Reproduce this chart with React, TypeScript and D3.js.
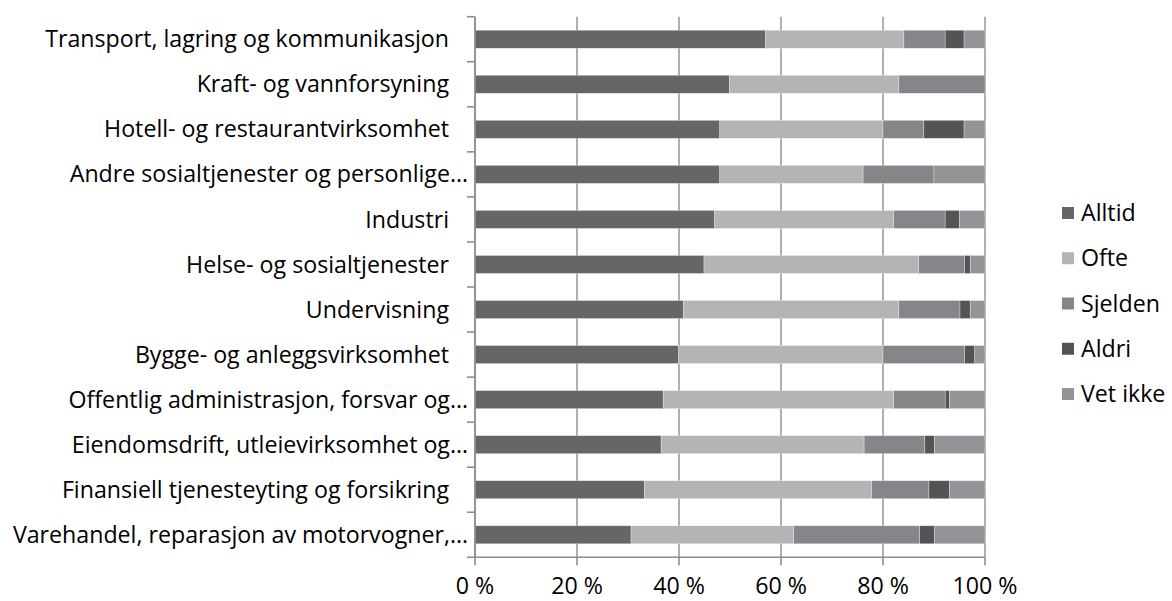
import React from "react";
import * as d3 from "d3";

const categories = [
  "Transport, lagring og kommunikasjon",
  "Kraft- og vannforsyning",
  "Hotell- og restaurantvirksomhet",
  "Andre sosialtjenester og personlige…",
  "Industri",
  "Helse- og sosialtjenester",
  "Undervisning",
  "Bygge- og anleggsvirksomhet",
  "Offentlig administrasjon, forsvar og…",
  "Eiendomsdrift, utleievirksomhet og…",
  "Finansiell tjenesteyting og forsikring",
  "Varehandel, reparasjon av motorvogner,…",
];

const seriesNames = ["Alltid", "Ofte", "Sjelden", "Aldri", "Vet ikke"];

const alltid = [57.0, 49.9, 48.0, 48.0, 47.0, 44.9, 40.9, 39.9, 36.9, 36.5, 33.2, 30.6];
const ofte = [27.1, 33.2, 32.0, 28.1, 35.1, 42.1, 42.2, 40.1, 45.2, 39.8, 44.6, 31.9];
const sjelden = [8.1, 16.9, 8.0, 13.9, 10.1, 9.0, 12.0, 16.0, 10.1, 11.9, 11.2, 24.7];
const aldri = [3.7, 0, 7.9, 0, 2.8, 1.1, 2.0, 2.0, 0.8, 1.9, 4.0, 2.9];
const vetIkke = [4.1, 0, 4.1, 10.0, 5.0, 2.9, 2.9, 2.0, 7.0, 9.9, 7.0, 9.9];

const xTicks = [0, 20, 40, 60, 80, 100];

const colors = ["#666668", "#b3b4b6", "#858689", "#535456", "#939497"];

export default function App() {
  const width = 1172;
  const height = 601;
  const left = 475;
  const right = 985;
  const top = 16.7;
  const bottom = 557.3;
  const font = "'Open Sans', Lato, sans-serif";
  const fontSize = 23.2;

  const rows = categories.map((c, i) => ({
    cat: c,
    Alltid: alltid[i],
    Ofte: ofte[i],
    Sjelden: sjelden[i],
    Aldri: aldri[i],
    "Vet ikke": vetIkke[i],
  }));

  const x = d3.scaleLinear().domain([0, 100]).range([left, right]);
  const y = d3
    .scaleBand<string>()
    .domain(categories)
    .range([top, bottom])
    .paddingInner(0.6)
    .paddingOuter(0.3);
  const yb = d3.scaleBand<string>().domain(categories).range([top, bottom]);

  const stack = d3.stack<any>().keys(seriesNames);
  const stacked = stack(rows);

  const legendY = d3.scaleLinear().domain([0, 4]).range([213, 394]);

  return (
    <svg
      width={width}
      height={height}
      style={{ position: "absolute", left: 0, top: 0, background: "#fff" }}
      fontFamily={font}
    >
      <rect x={0} y={0} width={width} height={height} fill="#fff" />
      {xTicks.map((t) => (
        <line
          key={"g" + t}
          x1={x(t)}
          x2={x(t)}
          y1={top}
          y2={bottom}
          stroke="#9c9c9c"
          strokeWidth={1.6}
        />
      ))}
      {stacked.map((s, si) => (
        <g key={seriesNames[si]} fill={colors[si]}>
          {s.map((d, i) =>
            d[1] - d[0] > 0 ? (
              <rect
                key={i}
                x={x(d[0])}
                width={x(d[1]) - x(d[0])}
                y={y(categories[i])!}
                height={y.bandwidth()}
                stroke="#ffffff"
                strokeOpacity={0.5}
                strokeWidth={0.6}
              />
            ) : null
          )}
        </g>
      ))}
      <line x1={left} x2={left} y1={top} y2={bottom} stroke="#8e8e8e" strokeWidth={1.6} />
      <line x1={left} x2={right} y1={bottom} y2={bottom} stroke="#8e8e8e" strokeWidth={1.6} />
      {categories.map((c) => (
        <line
          key={"yt" + c}
          x1={left - 8}
          x2={left}
          y1={yb(c)!}
          y2={yb(c)!}
          stroke="#8e8e8e"
          strokeWidth={1.6}
        />
      ))}
      <line x1={left - 8} x2={left} y1={bottom} y2={bottom} stroke="#8e8e8e" strokeWidth={1.6} />
      {xTicks.map((t) => (
        <line
          key={"xt" + t}
          x1={x(t)}
          x2={x(t)}
          y1={bottom}
          y2={bottom + 8}
          stroke="#8e8e8e"
          strokeWidth={1.6}
        />
      ))}
      {xTicks.map((t) => (
        <text
          key={"xl" + t}
          x={x(t)}
          y={594}
          textAnchor="middle"
          fontSize={fontSize}
          fill="#000"
        >
          {t + " %"}
        </text>
      ))}
      {categories.map((c) => (
        <text
          key={"cl" + c}
          x={c.endsWith("…") ? 468 : 449}
          y={y(c)! + y.bandwidth() / 2}
          dy="0.35em"
          textAnchor="end"
          fontSize={fontSize}
          fill="#000"
        >
          {c}
        </text>
      ))}
      {seriesNames.map((n, i) => (
        <g key={"lg" + n}>
          <rect x={1062} y={legendY(i) - 6} width={12} height={12} fill={colors[i]} />
          <text x={1081} y={legendY(i)} dy="0.35em" fontSize={fontSize} fill="#000">
            {n}
          </text>
        </g>
      ))}
    </svg>
  );
}
